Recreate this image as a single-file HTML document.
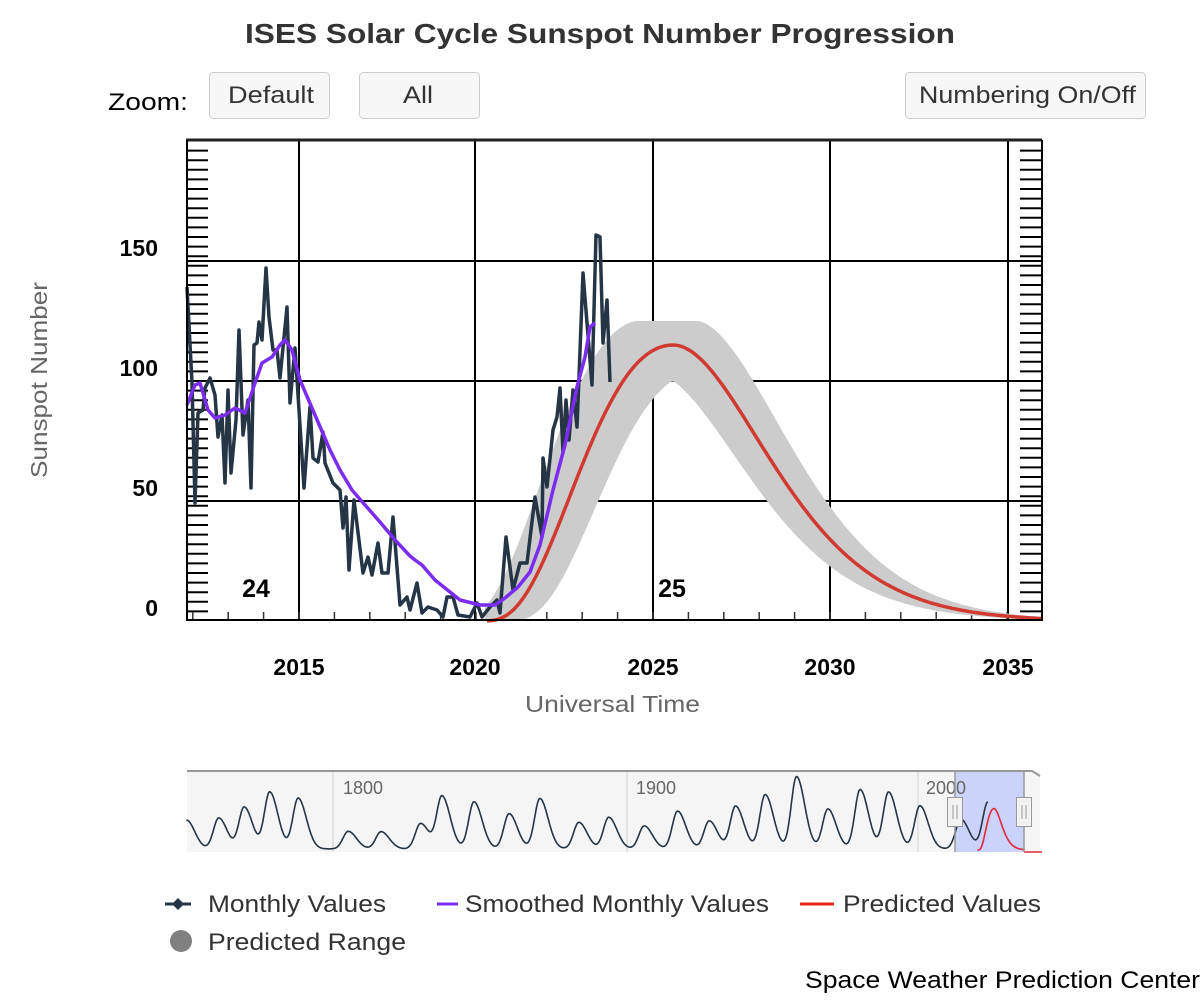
<!DOCTYPE html>
<html><head><meta charset="utf-8"><style>
html,body{margin:0;padding:0;background:#fff;}
svg{display:block;font-family:"Liberation Sans",Arial,sans-serif;}
</style></head><body>
<svg id="s" width="1200" height="1000" viewBox="0 0 1200 1000" xmlns="http://www.w3.org/2000/svg">
<rect width="1200" height="1000" fill="#fff"/>
<text x="245" y="43" font-size="28" font-weight="bold" fill="#333" textLength="710" lengthAdjust="spacingAndGlyphs">ISES Solar Cycle Sunspot Number Progression</text>
<text x="108" y="110" font-size="24" fill="#000" textLength="80" lengthAdjust="spacingAndGlyphs">Zoom:</text>
<rect x="209.5" y="72.5" width="120" height="46" rx="4" fill="#f7f7f7" stroke="#ccc"/>
<text x="228" y="103" font-size="24" fill="#333" textLength="86" lengthAdjust="spacingAndGlyphs">Default</text>
<rect x="359.5" y="72.5" width="120" height="46" rx="4" fill="#f7f7f7" stroke="#ccc"/>
<text x="403" y="103" font-size="24" fill="#333" textLength="30" lengthAdjust="spacingAndGlyphs">All</text>
<rect x="905.5" y="72.5" width="240" height="46" rx="4" fill="#f7f7f7" stroke="#ccc"/>
<text x="919" y="103" font-size="24" fill="#333" textLength="217" lengthAdjust="spacingAndGlyphs">Numbering On/Off</text>

<g id="grid" stroke="#000" stroke-width="2">
<line x1="187" y1="261" x2="1042" y2="261"/>
<line x1="187" y1="381" x2="1042" y2="381"/>
<line x1="187" y1="501" x2="1042" y2="501"/>
<line x1="299" y1="140" x2="299" y2="620"/>
<line x1="475" y1="140" x2="475" y2="620"/>
<line x1="653" y1="140" x2="653" y2="620"/>
<line x1="830" y1="140" x2="830" y2="620"/>
<line x1="1008" y1="140" x2="1008" y2="620"/>
</g>
<g id="ticks" stroke="#000" stroke-width="2"></g>
<path id="band" fill="#cccccc" stroke="none"/>
<polyline id="monthly" fill="none" stroke="#253545" stroke-width="3.5" stroke-linejoin="round" points="187,287 192,383 195,503 198,413 203,410 205,388 210,378 215,395 218,437 222,415 225,483 228,390 231,473 236,420 239,330 243,435 248,400 251,488 254,345 257,343 259,322 262,340 266,268 269,317 273,350 277,350 280,378 287,307 290,403 295,348 299,410 304,488 310,407 313,458 318,462 323,432 325,463 333,483 340,490 343,528 346,497 349,570 354,500 363,573 368,557 372,575 378,543 382,573 388,573 393,517 400,605 407,597 410,610 417,583 422,613 428,607 437,610 443,617 447,597 453,597 458,615 470,617 477,603 482,617 490,607 497,600 500,613 506,537 513,590 520,563 527,563 535,497 542,537 543,458 547,487 553,430 557,417 560,388 563,452 566,400 569,440 573,390 577,427 579,377 583,273 587,323 592,385 596,235 600,237 603,343 607,300 610,382"/>
<polyline fill="none" stroke="#7b2cf0" stroke-width="3.5" stroke-linejoin="round" points="187,405 195,385 200,383 208,410 215,418 225,415 235,408 245,413 255,383 262,363 272,357 280,345 285,340 292,350 300,380 315,415 330,450 340,470 352,490 365,505 380,522 395,540 410,556 415,560 422,565 435,580 460,600 480,605 495,605 505,598 518,587 530,572 540,545 553,490 565,445 577,387 585,357 590,327 595,323"/>
<path id="red" fill="none" stroke="#d03a30" stroke-width="3.5"/>
<line x1="186" y1="140" x2="1042" y2="140" stroke="#222" stroke-width="3"/>
<line x1="187" y1="140" x2="187" y2="621" stroke="#000" stroke-width="2"/>
<line x1="1042" y1="140" x2="1042" y2="621" stroke="#000" stroke-width="2"/>
<line x1="187" y1="620" x2="1042" y2="620" stroke="#000" stroke-width="2"/>

<g font-size="23" font-weight="bold" fill="#000" text-anchor="end">
<text x="158" y="256">150</text><text x="158" y="376">100</text><text x="158" y="496">50</text><text x="158" y="616">0</text>
</g>
<g font-size="23" font-weight="bold" fill="#000" text-anchor="middle">
<text x="299" y="675">2015</text><text x="475" y="675">2020</text><text x="653" y="675">2025</text><text x="830" y="675">2030</text><text x="1008" y="675">2035</text>
</g>
<text x="256" y="597" font-size="25" font-weight="bold" text-anchor="middle">24</text>
<text x="672" y="597" font-size="25" font-weight="bold" text-anchor="middle">25</text>
<text x="525" y="712" font-size="23" fill="#666" textLength="175" lengthAdjust="spacingAndGlyphs">Universal Time</text>
<text transform="translate(47,478) rotate(-90)" font-size="23" fill="#666" textLength="196" lengthAdjust="spacingAndGlyphs">Sunspot Number</text>

<!-- navigator -->
<rect x="187" y="771" width="853" height="81" fill="#f5f5f5"/>
<line x1="333" y1="771" x2="333" y2="852" stroke="#ddd" stroke-width="1.5"/>
<line x1="627" y1="771" x2="627" y2="852" stroke="#ddd" stroke-width="1.5"/>
<line x1="918" y1="771" x2="918" y2="852" stroke="#ddd" stroke-width="1.5"/>
<rect x="955" y="771" width="69" height="81" fill="#ccd3fa"/>
<g font-size="18" fill="#666"><text x="343" y="794">1800</text><text x="636" y="794">1900</text><text x="926" y="794">2000</text></g>
<path id="nav" fill="none" stroke="#253545" stroke-width="1.6"/>
<path id="navred" fill="none" stroke="#e0283c" stroke-width="1.6"/>
<path d="M187,771 H1032 L1040,776" fill="none" stroke="#999" stroke-width="2"/>
<line x1="1024" y1="852" x2="1042" y2="852" stroke="#e0283c" stroke-width="1.5"/>
<line x1="955" y1="771" x2="955" y2="852" stroke="#999" stroke-width="1.5"/>
<line x1="1024" y1="771" x2="1024" y2="852" stroke="#999" stroke-width="1.5"/>
<rect x="947.5" y="797.5" width="15" height="29" fill="#f2f2f2" stroke="#999"/>
<path d="M953,805V819M957,805V819" stroke="#999"/>
<rect x="1016.5" y="797.5" width="15" height="29" fill="#f2f2f2" stroke="#999"/>
<path d="M1022,805V819M1026,805V819" stroke="#999"/>

<!-- legend -->
<g font-size="24" fill="#333">
<line x1="165" y1="904" x2="191" y2="904" stroke="#253545" stroke-width="3"/>
<path d="M178,898 L184,904 L178,910 L172,904Z" fill="#253545"/>
<text x="208" y="912" textLength="178" lengthAdjust="spacingAndGlyphs">Monthly Values</text>
<line x1="437" y1="904" x2="458" y2="904" stroke="#7b2cf0" stroke-width="3"/>
<text x="465" y="912" textLength="304" lengthAdjust="spacingAndGlyphs">Smoothed Monthly Values</text>
<line x1="800" y1="904" x2="834" y2="904" stroke="#e8231b" stroke-width="3"/>
<text x="843" y="912" textLength="198" lengthAdjust="spacingAndGlyphs">Predicted Values</text>
<circle cx="181" cy="941" r="11" fill="#808080"/>
<text x="208" y="950" textLength="198" lengthAdjust="spacingAndGlyphs">Predicted Range</text>
</g>
<text x="805" y="988" font-size="24" fill="#000" textLength="395" lengthAdjust="spacingAndGlyphs">Space Weather Prediction Center</text>
</svg>
<script>
(function(){
var t=document.getElementById('ticks'),h='';
for(var y=621-9.6;y>142;y-=9.6){h+='<line x1="187" y1="'+y.toFixed(1)+'" x2="208" y2="'+y.toFixed(1)+'"/><line x1="1020" y1="'+y.toFixed(1)+'" x2="1042" y2="'+y.toFixed(1)+'"/>';}
for(var yr=2012;yr<=2036;yr++){var x=299+(yr-2015)*35.4;if(x>188&&x<1041)h+='<line x1="'+x.toFixed(1)+'" y1="612" x2="'+x.toFixed(1)+'" y2="620" stroke-width="1.5" stroke="#333"/>';}
t.innerHTML=h;
function f(x){var x0=480,xp=673;if(x<=x0)return 0;var u=(x-x0)/(xp-x0),k=u<1?3.45:5.58;return 115*Math.pow(u*Math.exp(1-u),k);}
function Y(v){return 621-v*2.4;}
var d='',up=[],lo=[];
for(var x=487;x<=1042;x+=3){d+=(d?'L':'M')+x+','+Y(f(x)).toFixed(1);}
document.getElementById('red').setAttribute('d',d);
for(var x=485;x<=1042;x+=3){var a=x<673?f(Math.min(x+30,673)):f(Math.max(x-20,673));up.push([x,Math.min(125,a*1.09)]);
var b=x<673?f(x-25):f(x+22);lo.push([x,b*0.9]);}
var p='M'+up.map(function(q){return q[0]+','+Y(q[1]).toFixed(1)}).join('L');
lo.reverse();p+='L'+lo.map(function(q){return q[0]+','+Y(Math.max(0,q[1])).toFixed(1)}).join('L')+'Z';
document.getElementById('band').setAttribute('d',p);
var mx=[1750,1761,1769.7,1778.4,1788.1,1805.2,1816.4,1829.9,1837.2,1848.1,1860.1,1870.6,1883.9,1894.1,1906.2,1917.6,1928.4,1937.4,1947.5,1958.2,1968.9,1979.9,1989.6,2000.3,2014.3,2023.5];
var am=[80,86,116,158,141,49,48,71,146,131,98,140,74,88,64,105,78,119,151,201,111,165,158,120,82,130];
function nx(yr){return 333+(yr-1800)*2.93;}
function s(yr){var v=0;for(var i=0;i<mx.length;i++){var dt=yr-mx[i];var sg=dt<0?1.8:2.8;v+=am[i]*Math.exp(-dt*dt/(2*sg*sg));}return Math.max(0,v+3);}
var n='';
for(var yr=1750;yr<=2023.7;yr+=0.25){var v=s(yr);n+=(n?'L':'M')+nx(yr).toFixed(1)+','+(850-v*0.36).toFixed(1);}
document.getElementById('nav').setAttribute('d',n);
var r='';
for(var yr=2019.9;yr<=2036.3;yr+=0.2){var xx=475+(yr-2020)*35.4;var v=f(xx);r+=(r?'L':'M')+nx(yr).toFixed(1)+','+(850-v*0.36).toFixed(1);}
document.getElementById('navred').setAttribute('d',r);
})();
</script>
</body></html>
